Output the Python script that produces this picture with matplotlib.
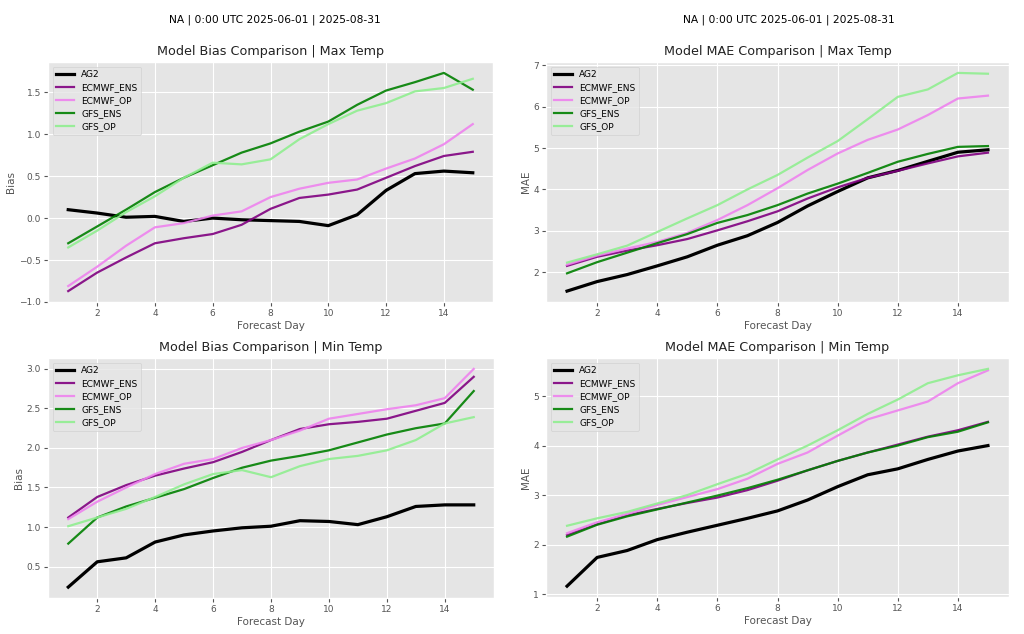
import matplotlib
matplotlib.use("Agg")
import matplotlib.pyplot as plt

plt.style.use("ggplot")

days = list(range(1, 16))
models = ["AG2", "ECMWF_ENS", "ECMWF_OP", "GFS_ENS", "GFS_OP"]

# Max Temp Bias
bias_max_ag2 = [0.10, 0.06, 0.01, 0.02, -0.04, 0.00, -0.02, -0.03, -0.04, -0.09, 0.04, 0.33, 0.53, 0.56, 0.54]
bias_max_ecmwf_ens = [-0.87, -0.65, -0.47, -0.30, -0.24, -0.19, -0.08, 0.11, 0.24, 0.28, 0.34, 0.48, 0.62, 0.74, 0.79]
bias_max_ecmwf_op = [-0.81, -0.58, -0.33, -0.11, -0.06, 0.03, 0.08, 0.25, 0.35, 0.42, 0.46, 0.59, 0.71, 0.88, 1.12]
bias_max_gfs_ens = [-0.30, -0.10, 0.10, 0.31, 0.48, 0.63, 0.78, 0.89, 1.03, 1.15, 1.35, 1.52, 1.62, 1.73, 1.53]
bias_max_gfs_op = [-0.35, -0.15, 0.07, 0.26, 0.48, 0.66, 0.64, 0.70, 0.94, 1.12, 1.28, 1.37, 1.51, 1.55, 1.66]

# Max Temp MAE
mae_max_ag2 = [1.54, 1.77, 1.94, 2.15, 2.37, 2.65, 2.88, 3.20, 3.60, 3.95, 4.28, 4.46, 4.68, 4.90, 4.96]
mae_max_ecmwf_ens = [2.15, 2.37, 2.52, 2.65, 2.80, 3.01, 3.23, 3.47, 3.78, 4.05, 4.28, 4.45, 4.63, 4.80, 4.89]
mae_max_ecmwf_op = [2.18, 2.40, 2.57, 2.73, 2.95, 3.26, 3.62, 4.03, 4.47, 4.87, 5.20, 5.45, 5.80, 6.20, 6.27]
mae_max_gfs_ens = [1.97, 2.24, 2.47, 2.70, 2.92, 3.19, 3.38, 3.62, 3.90, 4.14, 4.40, 4.67, 4.86, 5.03, 5.05]
mae_max_gfs_op = [2.23, 2.43, 2.64, 2.97, 3.30, 3.62, 4.00, 4.35, 4.77, 5.17, 5.70, 6.24, 6.42, 6.82, 6.80]

# Min Temp Bias
bias_min_ag2 = [0.24, 0.56, 0.61, 0.81, 0.90, 0.95, 0.99, 1.01, 1.08, 1.07, 1.03, 1.13, 1.26, 1.28, 1.28]
bias_min_ecmwf_ens = [1.12, 1.38, 1.53, 1.65, 1.74, 1.82, 1.95, 2.10, 2.24, 2.30, 2.33, 2.37, 2.47, 2.57, 2.90]
bias_min_ecmwf_op = [1.10, 1.32, 1.50, 1.67, 1.80, 1.86, 2.00, 2.10, 2.22, 2.37, 2.43, 2.49, 2.54, 2.63, 3.00]
bias_min_gfs_ens = [0.79, 1.12, 1.26, 1.37, 1.48, 1.62, 1.75, 1.84, 1.90, 1.97, 2.07, 2.17, 2.25, 2.31, 2.72]
bias_min_gfs_op = [1.01, 1.12, 1.23, 1.38, 1.54, 1.67, 1.72, 1.63, 1.77, 1.86, 1.90, 1.97, 2.10, 2.31, 2.39]

# Min Temp MAE
mae_min_ag2 = [1.16, 1.74, 1.88, 2.10, 2.25, 2.39, 2.53, 2.68, 2.90, 3.17, 3.41, 3.53, 3.72, 3.89, 4.00]
mae_min_ecmwf_ens = [2.19, 2.41, 2.59, 2.72, 2.84, 2.95, 3.10, 3.29, 3.50, 3.69, 3.86, 4.02, 4.18, 4.31, 4.48]
mae_min_ecmwf_op = [2.23, 2.45, 2.62, 2.80, 2.96, 3.12, 3.33, 3.63, 3.86, 4.20, 4.53, 4.71, 4.89, 5.26, 5.52]
mae_min_gfs_ens = [2.16, 2.40, 2.57, 2.71, 2.85, 2.99, 3.14, 3.31, 3.50, 3.69, 3.86, 4.00, 4.17, 4.28, 4.47]
mae_min_gfs_op = [2.38, 2.53, 2.66, 2.83, 3.00, 3.22, 3.43, 3.72, 4.00, 4.31, 4.64, 4.93, 5.26, 5.42, 5.55]

suptitle_text = "NA | 0:00 UTC 2025-06-01 | 2025-08-31"

colors = {"AG2": "black", "ECMWF_ENS": "purple", "ECMWF_OP": "violet",
          "GFS_ENS": "green", "GFS_OP": "lightgreen"}
widths = {"AG2": 2.3, "ECMWF_ENS": 1.6, "ECMWF_OP": 1.6, "GFS_ENS": 1.6, "GFS_OP": 1.6}

panels = [
    (0, 0, "Model Bias Comparison | Max Temp", "Bias",
     [bias_max_ag2, bias_max_ecmwf_ens, bias_max_ecmwf_op, bias_max_gfs_ens, bias_max_gfs_op]),
    (1, 0, "Model Bias Comparison | Min Temp", "Bias",
     [bias_min_ag2, bias_min_ecmwf_ens, bias_min_ecmwf_op, bias_min_gfs_ens, bias_min_gfs_op]),
    (0, 1, "Model MAE Comparison | Max Temp", "MAE",
     [mae_max_ag2, mae_max_ecmwf_ens, mae_max_ecmwf_op, mae_max_gfs_ens, mae_max_gfs_op]),
    (1, 1, "Model MAE Comparison | Min Temp", "MAE",
     [mae_min_ag2, mae_min_ecmwf_ens, mae_min_ecmwf_op, mae_min_gfs_ens, mae_min_gfs_op]),
]

fig = plt.figure(figsize=(10.24, 6.34), dpi=100)
fig.patch.set_facecolor("white")

W, H = 1024, 634
# axes boxes in pixels: (left, right, top, bottom)
boxes = {
    (0, 0): (48, 493, 62, 302),
    (1, 0): (48, 494, 358, 598),
    (0, 1): (546, 1009, 62, 302),
    (1, 1): (546, 1009, 358, 597),
}

for r, c, title, ylabel, series in panels:
    l, rr, t, b = boxes[(r, c)]
    ax = fig.add_axes([l / W, 1 - b / H, (rr - l) / W, (b - t) / H])
    for name, vals in zip(models, series):
        ax.plot(days, vals, color=colors[name], lw=widths[name], label=name,
                alpha=0.9 if name != "AG2" else 1.0)
    ax.set_title(title, fontsize=9.2, color="#222222", pad=5)
    ax.set_ylabel(ylabel, fontsize=7.5, color="#555555", labelpad=2)
    ax.set_xlabel("Forecast Day", fontsize=7.5, color="#555555", labelpad=2)
    ax.set_xticks([2, 4, 6, 8, 10, 12, 14])
    ax.tick_params(labelsize=6.5, colors="#555555", length=3, pad=2)
    ax.legend(loc="upper left", fontsize=6.5, handlelength=2.0, labelspacing=0.45)

fig.text(0.268, 1 - 20 / H, suptitle_text, ha="center", va="center", fontsize=7.7)
fig.text(0.770, 1 - 20 / H, suptitle_text, ha="center", va="center", fontsize=7.7)

fig.savefig("out.png", dpi=100, facecolor="white")
